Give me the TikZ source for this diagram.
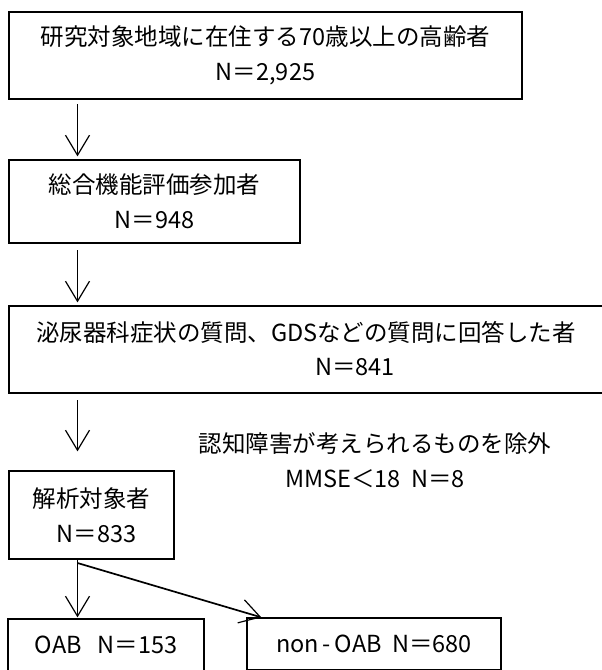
\documentclass[tikz,border=0pt]{standalone}
\usepackage{fontspec}
\setmainfont{Noto Sans CJK JP}
\usetikzlibrary{arrows.meta,calc}
\begin{document}
\begin{tikzpicture}[x=1pt,y=-1pt,
  box/.style={draw=black,line width=1.3pt,inner sep=0pt,align=center,
    font=\fontsize{23.5}{35}\selectfont},
  txt/.style={inner sep=0pt,align=center,font=\fontsize{23.5}{35}\selectfont},
  arr/.style={line width=1.2pt,-{Straight Barb[length=20pt,width=24pt,line width=1.2pt]}}]
\useasboundingbox (0,0) rectangle (602,670);
\node[box,minimum width=513pt,minimum height=87pt] (b1) at (265.5,55.5)
  {研究対象地域に在住する70歳以上の高齢者\\N＝2,925};
\node[box,minimum width=291pt,minimum height=83pt] (b2) at (154.5,201.5)
  {総合機能評価参加者\\N＝948};
\node[box,minimum width=611pt,minimum height=87pt] (b3) at (314.5,349.5) {};
\node[txt] (b3a) at (306,332) {泌尿器科症状の質問、GDSなどの質問に回答した者};
\node[txt] (b3b) at (355,367) {N＝841};
\node[txt] (ex) at (375,460) {認知障害が考えられるものを除外\\MMSE＜18\ \ N＝8};
\node[box,minimum width=165pt,minimum height=88pt] (b4) at (91.5,515)
  {解析対象者\\\hspace*{10pt}N＝833};
\node[box,minimum width=196pt,minimum height=52pt] (oab) at (106,645)
  {OAB\ \ \ N＝153};
\node[box,minimum width=254pt,minimum height=52pt] (noab) at (374,644)
  {non\,-\,OAB\ \ N＝680};
\coordinate (a1) at (77.5,104);
\coordinate (a2) at (77.5,250);
\coordinate (a3) at (77.5,400);
\coordinate (br) at (77.5,563);
\draw[arr,shorten >=3pt] (a1) -- (a1 |- b2.north);
\draw[arr,shorten >=3pt] (a2) -- (a2 |- b3.north);
\draw[arr,shorten >=19pt] (a3) -- (a3 |- b4.north);
\draw[line width=1.2pt] (b4.south -| br) -- (br);
\draw[arr,shorten >=1pt] (br) -- (br |- oab.north);
\draw[arr,line width=1.7pt] (br) -- ([xshift=15pt]noab.north west);
\end{tikzpicture}
\end{document}
